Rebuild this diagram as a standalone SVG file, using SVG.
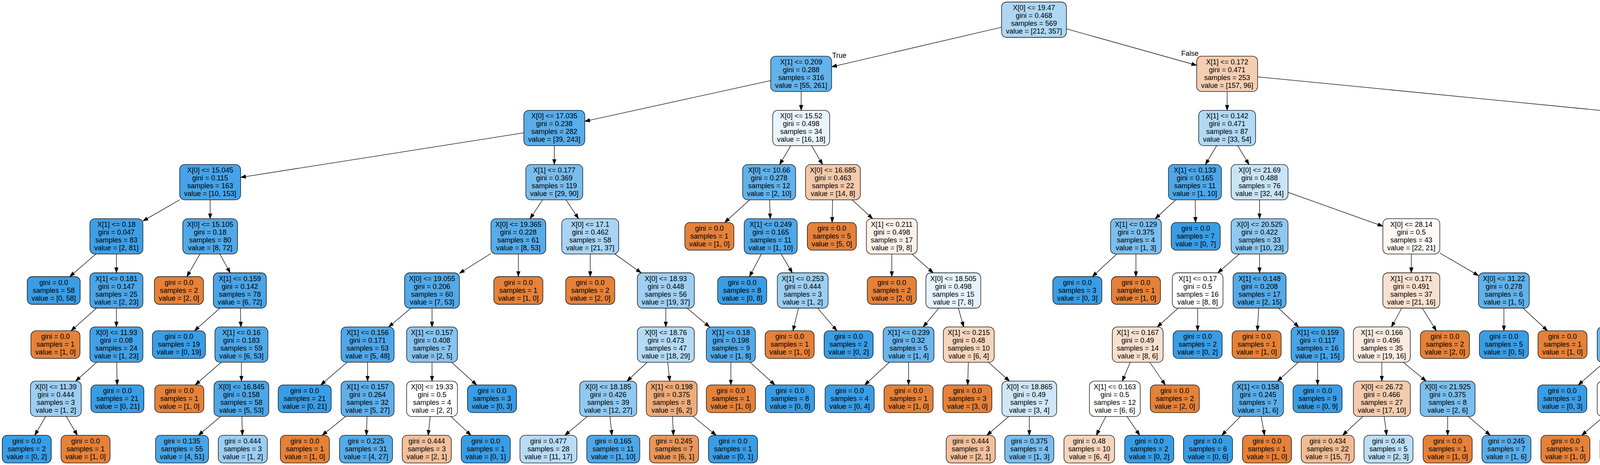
<svg xmlns="http://www.w3.org/2000/svg" width="5887" height="1191" viewBox="0 0 5887 1191">
<style>
text{font-family:"Liberation Sans",Arial,Helvetica,sans-serif;font-size:18px;text-anchor:middle;fill:#000}
.nd rect{stroke:#000;stroke-width:1.3}
.o rect{fill:#e58139}.b rect{fill:#399de5}.w rect{fill:#ffffff}
#edges line{stroke:#000;stroke-width:1.3;marker-end:url(#ah)}
</style>
<defs>
<marker id="ah" markerUnits="userSpaceOnUse" markerWidth="15" markerHeight="11" refX="13.4" refY="4.7" orient="auto"><path d="M0,0 L13.4,4.7 L0,9.4 z" fill="#000" stroke="#000" stroke-width="1"/></marker>
</defs>
<rect width="5887" height="1191" fill="#fff"/>
<g id="edges">
<line x1="2564" y1="69.8" x2="2129" y2="171.1"/>
<line x1="2730" y1="73.8" x2="3063.5" y2="167.3"/>
<line x1="1973" y1="206.3" x2="1497" y2="310.8"/>
<line x1="2051" y1="234.5" x2="2051" y2="282.7"/>
<line x1="3141.5" y1="234.5" x2="3141.5" y2="282.7"/>
<line x1="3219.5" y1="196.8" x2="4480" y2="320.3"/>
<line x1="1341" y1="340.2" x2="616" y2="454.3"/>
<line x1="1419" y1="373.2" x2="1419" y2="421.4"/>
<line x1="2024.3" y1="373.2" x2="1995.8" y2="421.4"/>
<line x1="2077.6" y1="373.2" x2="2105.8" y2="421.4"/>
<line x1="3114.6" y1="373.2" x2="3085.9" y2="421.4"/>
<line x1="3168.6" y1="373.2" x2="3197.4" y2="421.4"/>
<line x1="4558" y1="373.2" x2="4558" y2="421.4"/>
<line x1="4636" y1="341.7" x2="5270.4" y2="454.2"/>
<line x1="460" y1="511.7" x2="365.9" y2="566.1"/>
<line x1="538" y1="511.9" x2="538" y2="560.1"/>
<line x1="1389" y1="511.9" x2="1357" y2="560.1"/>
<line x1="1449" y1="511.9" x2="1481" y2="560.1"/>
<line x1="1919.1" y1="511.9" x2="1855.2" y2="569.8"/>
<line x1="1970.3" y1="511.9" x2="1971.7" y2="560.1"/>
<line x1="2131.5" y1="511.9" x2="2130.2" y2="569.8"/>
<line x1="2181.5" y1="511.9" x2="2233.9" y2="560.1"/>
<line x1="3009.7" y1="511.9" x2="2957.3" y2="560.1"/>
<line x1="3059.7" y1="511.9" x2="3060.5" y2="569.8"/>
<line x1="3224.5" y1="511.9" x2="3224.5" y2="560.1"/>
<line x1="3297.4" y1="492.6" x2="3540.1" y2="579.3"/>
<line x1="4506.1" y1="511.9" x2="4450.9" y2="560.1"/>
<line x1="4610.7" y1="511.9" x2="4666.8" y2="560.1"/>
<line x1="5340.5" y1="511.9" x2="5340.5" y2="560.1"/>
<line x1="5410.7" y1="508.3" x2="5506.2" y2="565"/>
<line x1="245.6" y1="650.6" x2="178.6" y2="708.5"/>
<line x1="298" y1="650.6" x2="298" y2="698.8"/>
<line x1="511.9" y1="650.6" x2="478.5" y2="708.5"/>
<line x1="562.8" y1="650.6" x2="589.2" y2="698.8"/>
<line x1="1256.9" y1="649.3" x2="1176.2" y2="700"/>
<line x1="1327" y1="650.6" x2="1327" y2="708.5"/>
<line x1="1511" y1="650.6" x2="1511" y2="708.5"/>
<line x1="1574.1" y1="650.6" x2="1641.4" y2="698.8"/>
<line x1="1949.2" y1="650.6" x2="1918.7" y2="708.5"/>
<line x1="1999.8" y1="650.6" x2="2028.3" y2="698.8"/>
<line x1="2283" y1="650.6" x2="2283" y2="708.5"/>
<line x1="2334.4" y1="650.6" x2="2389.1" y2="698.8"/>
<line x1="2859.1" y1="650.6" x2="2796.4" y2="708.5"/>
<line x1="2908" y1="650.6" x2="2908" y2="708.5"/>
<line x1="3172.8" y1="650.6" x2="3117.7" y2="698.8"/>
<line x1="3224.5" y1="650.6" x2="3224.5" y2="698.8"/>
<line x1="3613" y1="650.6" x2="3613" y2="698.8"/>
<line x1="3685.9" y1="648" x2="3785" y2="705.9"/>
<line x1="4346.5" y1="650.6" x2="4279.2" y2="708.5"/>
<line x1="4399" y1="650.6" x2="4399" y2="698.8"/>
<line x1="4719.5" y1="650.6" x2="4719.5" y2="698.8"/>
<line x1="4789.7" y1="647.2" x2="4886.5" y2="705.1"/>
<line x1="5315.9" y1="650.6" x2="5289.6" y2="698.8"/>
<line x1="5365.6" y1="650.6" x2="5397.8" y2="708.5"/>
<line x1="5574" y1="650.6" x2="5574" y2="708.5"/>
<line x1="5627" y1="650.6" x2="5683.5" y2="698.8"/>
<line x1="247.1" y1="789.3" x2="181.9" y2="847.2"/>
<line x1="298" y1="789.3" x2="298" y2="837.5"/>
<line x1="563.1" y1="789.3" x2="497.9" y2="847.2"/>
<line x1="615.3" y1="789.3" x2="616.7" y2="837.5"/>
<line x1="1052.2" y1="789.3" x2="994.8" y2="837.5"/>
<line x1="1106" y1="789.3" x2="1106" y2="837.5"/>
<line x1="1704.5" y1="789.3" x2="1704.5" y2="837.5"/>
<line x1="1758.8" y1="789.3" x2="1816.7" y2="837.5"/>
<line x1="2044.1" y1="789.3" x2="2030.1" y2="847.2"/>
<line x1="2093.3" y1="789.3" x2="2142.4" y2="847.2"/>
<line x1="2403.2" y1="789.3" x2="2363.4" y2="837.5"/>
<line x1="2453.4" y1="789.3" x2="2467.1" y2="837.5"/>
<line x1="3015.9" y1="789.3" x2="2962.6" y2="837.5"/>
<line x1="3066" y1="789.3" x2="3066" y2="847.2"/>
<line x1="3222.1" y1="789.3" x2="3218.9" y2="847.2"/>
<line x1="3273" y1="789.3" x2="3324.6" y2="837.5"/>
<line x1="3588.4" y1="789.3" x2="3562.1" y2="837.5"/>
<line x1="3641.1" y1="789.3" x2="3677" y2="847.2"/>
<line x1="3850" y1="789.3" x2="3850" y2="847.2"/>
<line x1="3898.9" y1="789.3" x2="3961.6" y2="847.2"/>
<line x1="4326.1" y1="786.1" x2="4229.2" y2="842.2"/>
<line x1="4399" y1="789.3" x2="4399" y2="837.5"/>
<line x1="4694.1" y1="789.3" x2="4667" y2="837.5"/>
<line x1="4745.9" y1="789.3" x2="4779.8" y2="847.2"/>
<line x1="4951.5" y1="789.3" x2="4951.5" y2="847.2"/>
<line x1="5001.4" y1="789.3" x2="5054.6" y2="837.5"/>
<line x1="5265" y1="789.3" x2="5265" y2="837.5"/>
<line x1="5316.6" y1="789.3" x2="5382.6" y2="847.2"/>
<line x1="5710.9" y1="789.3" x2="5678.1" y2="847.2"/>
<line x1="5761.6" y1="789.3" x2="5793.8" y2="847.2"/>
<line x1="247.4" y1="928" x2="193.6" y2="976.2"/>
<line x1="298.8" y1="928" x2="299.9" y2="985.9"/>
<line x1="566.1" y1="928" x2="499.7" y2="985.9"/>
<line x1="618" y1="928" x2="618" y2="976.2"/>
<line x1="888.5" y1="928" x2="821.2" y2="985.9"/>
<line x1="941" y1="928" x2="941" y2="976.2"/>
<line x1="1106" y1="928" x2="1106" y2="976.2"/>
<line x1="1156.1" y1="928" x2="1220.2" y2="985.9"/>
<line x1="1656.4" y1="928" x2="1605.1" y2="976.2"/>
<line x1="1709.4" y1="928" x2="1714.6" y2="976.2"/>
<line x1="1871" y1="928" x2="1871" y2="985.9"/>
<line x1="1920.4" y1="928" x2="1983.7" y2="985.9"/>
<line x1="2276.7" y1="928" x2="2213.7" y2="985.9"/>
<line x1="2326" y1="928" x2="2326" y2="985.9"/>
<line x1="2478.9" y1="928" x2="2477.4" y2="985.9"/>
<line x1="2530.6" y1="928" x2="2584.4" y2="976.2"/>
<line x1="2893.4" y1="928" x2="2873.1" y2="976.2"/>
<line x1="2943.5" y1="928" x2="2983.2" y2="985.9"/>
<line x1="3323.3" y1="928" x2="3270.3" y2="976.2"/>
<line x1="3373" y1="928" x2="3373" y2="985.9"/>
<line x1="3537.5" y1="928" x2="3537.5" y2="976.2"/>
<line x1="3592.5" y1="928" x2="3651" y2="976.2"/>
<line x1="4107" y1="928" x2="4040.3" y2="985.9"/>
<line x1="4159" y1="928" x2="4159" y2="976.2"/>
<line x1="4373.9" y1="928" x2="4347.1" y2="976.2"/>
<line x1="4426.7" y1="928" x2="4456.3" y2="976.2"/>
<line x1="4643" y1="928" x2="4644.9" y2="985.9"/>
<line x1="4692.1" y1="928" x2="4756.8" y2="985.9"/>
<line x1="5056.2" y1="928" x2="4994.4" y2="985.9"/>
<line x1="5105.3" y1="928" x2="5106.4" y2="985.9"/>
<line x1="5264" y1="928" x2="5262.8" y2="985.9"/>
<line x1="5313.9" y1="928" x2="5366.1" y2="976.2"/>
<line x1="116.9" y1="1066.7" x2="89" y2="1114.9"/>
<line x1="169.7" y1="1066.7" x2="198.1" y2="1114.9"/>
<line x1="564.7" y1="1066.7" x2="507.9" y2="1114.9"/>
<line x1="619.2" y1="1066.7" x2="620.5" y2="1114.9"/>
<line x1="884.7" y1="1066.7" x2="824.7" y2="1114.9"/>
<line x1="939.6" y1="1066.7" x2="938.1" y2="1114.9"/>
<line x1="1101.3" y1="1066.7" x2="1096.2" y2="1114.9"/>
<line x1="1154.3" y1="1066.7" x2="1205.7" y2="1114.9"/>
<line x1="1503.3" y1="1066.7" x2="1446.1" y2="1114.9"/>
<line x1="1561.6" y1="1066.7" x2="1566.4" y2="1114.9"/>
<line x1="1721.6" y1="1066.7" x2="1723.9" y2="1114.9"/>
<line x1="1774.6" y1="1066.7" x2="1833.3" y2="1114.9"/>
<line x1="2582.4" y1="1066.7" x2="2526.3" y2="1114.9"/>
<line x1="2635" y1="1066.7" x2="2635" y2="1114.9"/>
<line x1="2831" y1="1066.7" x2="2806.5" y2="1114.9"/>
<line x1="2884.9" y1="1066.7" x2="2917.8" y2="1114.9"/>
<line x1="3175.6" y1="1066.7" x2="3127.7" y2="1114.9"/>
<line x1="3228.6" y1="1066.7" x2="3237.2" y2="1114.9"/>
<line x1="3488.9" y1="1066.7" x2="3437.1" y2="1114.9"/>
<line x1="3543.5" y1="1066.7" x2="3549.8" y2="1114.9"/>
<line x1="3706" y1="1066.7" x2="3706" y2="1114.9"/>
<line x1="3758.8" y1="1066.7" x2="3815.1" y2="1114.9"/>
<line x1="4105.8" y1="1066.7" x2="4049.2" y2="1114.9"/>
<line x1="4159" y1="1066.7" x2="4159" y2="1114.9"/>
<line x1="4317.3" y1="1066.7" x2="4312.2" y2="1114.9"/>
<line x1="4370.1" y1="1066.7" x2="4421.3" y2="1114.9"/>
<line x1="4528.2" y1="1066.7" x2="4575.3" y2="1114.9"/>
<line x1="4556.9" y1="1054.2" x2="4698.1" y2="1117.6"/>
<line x1="5388.5" y1="1066.7" x2="5360.3" y2="1114.9"/>
<line x1="5441.1" y1="1066.7" x2="5469" y2="1114.9"/>
</g>
<g id="edge-labels">
<text x="2148.5" y="148">True</text>
<text x="3046" y="143">False</text>
</g>
<g id="nodes">
<g id="n0" class="nd"><rect x="2563.95" y="5.25" width="166.1" height="90.5" rx="13" fill="#afd7f4"/><text y="26"><tspan x="2647">X[0] &lt;= 19.47</tspan><tspan x="2647" dy="20">gini = 0.468</tspan><tspan x="2647" dy="20">samples = 569</tspan><tspan x="2647" dy="20">value = [212, 357]</tspan></text></g>
<g id="n1" class="nd"><rect x="1973" y="143.95" width="156" height="90.5" rx="13" fill="#63b2ea"/><text y="164.7"><tspan x="2051">X[1] &lt;= 0.209</tspan><tspan x="2051" dy="20">gini = 0.288</tspan><tspan x="2051" dy="20">samples = 316</tspan><tspan x="2051" dy="20">value = [55, 261]</tspan></text></g>
<g id="n2" class="nd"><rect x="3063.5" y="143.95" width="156" height="90.5" rx="13" fill="#f5ceb2"/><text y="164.7"><tspan x="3141.5">X[1] &lt;= 0.172</tspan><tspan x="3141.5" dy="20">gini = 0.471</tspan><tspan x="3141.5" dy="20">samples = 253</tspan><tspan x="3141.5" dy="20">value = [157, 96]</tspan></text></g>
<g id="n3" class="nd"><rect x="1341" y="282.65" width="156" height="90.5" rx="13" fill="#59ade9"/><text y="303.4"><tspan x="1419">X[0] &lt;= 17.035</tspan><tspan x="1419" dy="20">gini = 0.238</tspan><tspan x="1419" dy="20">samples = 282</tspan><tspan x="1419" dy="20">value = [39, 243]</tspan></text></g>
<g id="n4" class="nd"><rect x="1978.1" y="282.65" width="145.8" height="90.5" rx="13" fill="#e9f4fc"/><text y="303.4"><tspan x="2051">X[0] &lt;= 15.52</tspan><tspan x="2051" dy="20">gini = 0.498</tspan><tspan x="2051" dy="20">samples = 34</tspan><tspan x="2051" dy="20">value = [16, 18]</tspan></text></g>
<g id="n5" class="nd"><rect x="3068.6" y="282.65" width="145.8" height="90.5" rx="13" fill="#b2d9f5"/><text y="303.4"><tspan x="3141.5">X[1] &lt;= 0.142</tspan><tspan x="3141.5" dy="20">gini = 0.471</tspan><tspan x="3141.5" dy="20">samples = 87</tspan><tspan x="3141.5" dy="20">value = [33, 54]</tspan></text></g>
<g id="n6" class="nd"><rect x="4480" y="282.65" width="156" height="90.5" rx="13" fill="#eeac7c"/><text y="303.4"><tspan x="4558">X[1] &lt;= 0.204</tspan><tspan x="4558" dy="20">gini = 0.378</tspan><tspan x="4558" dy="20">samples = 166</tspan><tspan x="4558" dy="20">value = [124, 42]</tspan></text></g>
<g id="n7" class="nd"><rect x="460" y="421.35" width="156" height="90.5" rx="13" fill="#46a3e7"/><text y="442.1"><tspan x="538">X[0] &lt;= 15.045</tspan><tspan x="538" dy="20">gini = 0.115</tspan><tspan x="538" dy="20">samples = 163</tspan><tspan x="538" dy="20">value = [10, 153]</tspan></text></g>
<g id="n8" class="nd"><rect x="1346.1" y="421.35" width="145.8" height="90.5" rx="13" fill="#79bded"/><text y="442.1"><tspan x="1419">X[1] &lt;= 0.177</tspan><tspan x="1419" dy="20">gini = 0.369</tspan><tspan x="1419" dy="20">samples = 119</tspan><tspan x="1419" dy="20">value = [29, 90]</tspan></text></g>
<g id="n9" class="nd"><rect x="1901.15" y="421.35" width="135.7" height="90.5" rx="13" fill="#61b1ea"/><text y="442.1"><tspan x="1969">X[0] &lt;= 10.66</tspan><tspan x="1969" dy="20">gini = 0.278</tspan><tspan x="1969" dy="20">samples = 12</tspan><tspan x="1969" dy="20">value = [2, 10]</tspan></text></g>
<g id="n10" class="nd"><rect x="2062.25" y="421.35" width="140.3" height="90.5" rx="13" fill="#f4c9aa"/><text y="442.1"><tspan x="2132.4">X[0] &lt;= 16.685</tspan><tspan x="2132.4" dy="20">gini = 0.463</tspan><tspan x="2132.4" dy="20">samples = 22</tspan><tspan x="2132.4" dy="20">value = [14, 8]</tspan></text></g>
<g id="n11" class="nd"><rect x="2991.15" y="421.35" width="135.7" height="90.5" rx="13" fill="#4da7e8"/><text y="442.1"><tspan x="3059">X[1] &lt;= 0.133</tspan><tspan x="3059" dy="20">gini = 0.165</tspan><tspan x="3059" dy="20">samples = 11</tspan><tspan x="3059" dy="20">value = [1, 10]</tspan></text></g>
<g id="n12" class="nd"><rect x="3151.6" y="421.35" width="145.8" height="90.5" rx="13" fill="#c9e4f8"/><text y="442.1"><tspan x="3224.5">X[0] &lt;= 21.69</tspan><tspan x="3224.5" dy="20">gini = 0.488</tspan><tspan x="3224.5" dy="20">samples = 76</tspan><tspan x="3224.5" dy="20">value = [32, 44]</tspan></text></g>
<g id="n13" class="nd"><rect x="4485.1" y="421.35" width="145.8" height="90.5" rx="13" fill="#f2be99"/><text y="442.1"><tspan x="4558">X[1] &lt;= 0.199</tspan><tspan x="4558" dy="20">gini = 0.44</tspan><tspan x="4558" dy="20">samples = 110</tspan><tspan x="4558" dy="20">value = [74, 36]</tspan></text></g>
<g id="n14" class="nd"><rect x="5270.35" y="421.35" width="140.3" height="90.5" rx="13" fill="#e89051"/><text y="442.1"><tspan x="5340.5">X[0] &lt;= 20.805</tspan><tspan x="5340.5" dy="20">gini = 0.191</tspan><tspan x="5340.5" dy="20">samples = 56</tspan><tspan x="5340.5" dy="20">value = [50, 6]</tspan></text></g>
<g id="n15" class="nd"><rect x="230.15" y="560.05" width="135.7" height="90.5" rx="13" fill="#3e9fe6"/><text y="580.8"><tspan x="298">X[1] &lt;= 0.18</tspan><tspan x="298" dy="20">gini = 0.047</tspan><tspan x="298" dy="20">samples = 83</tspan><tspan x="298" dy="20">value = [2, 81]</tspan></text></g>
<g id="n16" class="nd"><rect x="467.85" y="560.05" width="140.3" height="90.5" rx="13" fill="#4fa8e8"/><text y="580.8"><tspan x="538">X[0] &lt;= 15.105</tspan><tspan x="538" dy="20">gini = 0.18</tspan><tspan x="538" dy="20">samples = 80</tspan><tspan x="538" dy="20">value = [8, 72]</tspan></text></g>
<g id="n17" class="nd"><rect x="1256.85" y="560.05" width="140.3" height="90.5" rx="13" fill="#57ace9"/><text y="580.8"><tspan x="1327">X[0] &lt;= 19.365</tspan><tspan x="1327" dy="20">gini = 0.228</tspan><tspan x="1327" dy="20">samples = 61</tspan><tspan x="1327" dy="20">value = [8, 53]</tspan></text></g>
<g id="n18" class="nd"><rect x="1438.1" y="560.05" width="145.8" height="90.5" rx="13" fill="#a9d4f4"/><text y="580.8"><tspan x="1511">X[0] &lt;= 17.1</tspan><tspan x="1511" dy="20">gini = 0.462</tspan><tspan x="1511" dy="20">samples = 58</tspan><tspan x="1511" dy="20">value = [21, 37]</tspan></text></g>
<g id="n19" class="nd o"><rect x="1753.2" y="569.8" width="125.6" height="71" rx="13"/><text y="590.8"><tspan x="1816">gini = 0.0</tspan><tspan x="1816" dy="20">samples = 1</tspan><tspan x="1816" dy="20">value = [1, 0]</tspan></text></g>
<g id="n20" class="nd"><rect x="1905.15" y="560.05" width="135.7" height="90.5" rx="13" fill="#4da7e8"/><text y="580.8"><tspan x="1973">X[1] &lt;= 0.249</tspan><tspan x="1973" dy="20">gini = 0.165</tspan><tspan x="1973" dy="20">samples = 11</tspan><tspan x="1973" dy="20">value = [1, 10]</tspan></text></g>
<g id="n21" class="nd o"><rect x="2066.7" y="569.8" width="125.6" height="71" rx="13"/><text y="590.8"><tspan x="2129.5">gini = 0.0</tspan><tspan x="2129.5" dy="20">samples = 5</tspan><tspan x="2129.5" dy="20">value = [5, 0]</tspan></text></g>
<g id="n22" class="nd"><rect x="2217.95" y="560.05" width="130.1" height="90.5" rx="13" fill="#fcf1e9"/><text y="580.8"><tspan x="2283">X[1] &lt;= 0.211</tspan><tspan x="2283" dy="20">gini = 0.498</tspan><tspan x="2283" dy="20">samples = 17</tspan><tspan x="2283" dy="20">value = [9, 8]</tspan></text></g>
<g id="n23" class="nd"><rect x="2842.95" y="560.05" width="130.1" height="90.5" rx="13" fill="#7bbeee"/><text y="580.8"><tspan x="2908">X[1] &lt;= 0.129</tspan><tspan x="2908" dy="20">gini = 0.375</tspan><tspan x="2908" dy="20">samples = 4</tspan><tspan x="2908" dy="20">value = [1, 3]</tspan></text></g>
<g id="n24" class="nd b"><rect x="2998.2" y="569.8" width="125.6" height="71" rx="13"/><text y="590.8"><tspan x="3061">gini = 0.0</tspan><tspan x="3061" dy="20">samples = 7</tspan><tspan x="3061" dy="20">value = [0, 7]</tspan></text></g>
<g id="n25" class="nd"><rect x="3151.6" y="560.05" width="145.8" height="90.5" rx="13" fill="#8fc8f0"/><text y="580.8"><tspan x="3224.5">X[0] &lt;= 20.525</tspan><tspan x="3224.5" dy="20">gini = 0.422</tspan><tspan x="3224.5" dy="20">samples = 33</tspan><tspan x="3224.5" dy="20">value = [10, 23]</tspan></text></g>
<g id="n26" class="nd"><rect x="3540.1" y="560.05" width="145.8" height="90.5" rx="13" fill="#fef9f6"/><text y="580.8"><tspan x="3613">X[0] &lt;= 28.14</tspan><tspan x="3613" dy="20">gini = 0.5</tspan><tspan x="3613" dy="20">samples = 43</tspan><tspan x="3613" dy="20">value = [22, 21]</tspan></text></g>
<g id="n27" class="nd"><rect x="4326.1" y="560.05" width="145.8" height="90.5" rx="13" fill="#f0b78e"/><text y="580.8"><tspan x="4399">X[1] &lt;= 0.173</tspan><tspan x="4399" dy="20">gini = 0.42</tspan><tspan x="4399" dy="20">samples = 100</tspan><tspan x="4399" dy="20">value = [70, 30]</tspan></text></g>
<g id="n28" class="nd"><rect x="4649.35" y="560.05" width="140.3" height="90.5" rx="13" fill="#bddef6"/><text y="580.8"><tspan x="4719.5">X[0] &lt;= 21.645</tspan><tspan x="4719.5" dy="20">gini = 0.48</tspan><tspan x="4719.5" dy="20">samples = 10</tspan><tspan x="4719.5" dy="20">value = [4, 6]</tspan></text></g>
<g id="n29" class="nd"><rect x="5275.45" y="560.05" width="130.1" height="90.5" rx="13" fill="#f3c7a7"/><text y="580.8"><tspan x="5340.5">X[0] &lt;= 20.69</tspan><tspan x="5340.5" dy="20">gini = 0.459</tspan><tspan x="5340.5" dy="20">samples = 14</tspan><tspan x="5340.5" dy="20">value = [9, 5]</tspan></text></g>
<g id="n30" class="nd"><rect x="5506.15" y="560.05" width="135.7" height="90.5" rx="13" fill="#e6843e"/><text y="580.8"><tspan x="5574">X[0] &lt;= 24.21</tspan><tspan x="5574" dy="20">gini = 0.046</tspan><tspan x="5574" dy="20">samples = 42</tspan><tspan x="5574" dy="20">value = [41, 1]</tspan></text></g>
<g id="n31" class="nd b"><rect x="69.65" y="708.5" width="135.7" height="71" rx="13"/><text y="729.5"><tspan x="137.5">gini = 0.0</tspan><tspan x="137.5" dy="20">samples = 58</tspan><tspan x="137.5" dy="20">value = [0, 58]</tspan></text></g>
<g id="n32" class="nd"><rect x="230.15" y="698.75" width="135.7" height="90.5" rx="13" fill="#4aa5e7"/><text y="719.5"><tspan x="298">X[1] &lt;= 0.181</tspan><tspan x="298" dy="20">gini = 0.147</tspan><tspan x="298" dy="20">samples = 25</tspan><tspan x="298" dy="20">value = [2, 23]</tspan></text></g>
<g id="n33" class="nd o"><rect x="395.2" y="708.5" width="125.6" height="71" rx="13"/><text y="729.5"><tspan x="458">gini = 0.0</tspan><tspan x="458" dy="20">samples = 2</tspan><tspan x="458" dy="20">value = [2, 0]</tspan></text></g>
<g id="n34" class="nd"><rect x="546.15" y="698.75" width="135.7" height="90.5" rx="13" fill="#4aa5e7"/><text y="719.5"><tspan x="614">X[1] &lt;= 0.159</tspan><tspan x="614" dy="20">gini = 0.142</tspan><tspan x="614" dy="20">samples = 78</tspan><tspan x="614" dy="20">value = [6, 72]</tspan></text></g>
<g id="n35" class="nd"><rect x="1035.85" y="698.75" width="140.3" height="90.5" rx="13" fill="#53aae8"/><text y="719.5"><tspan x="1106">X[0] &lt;= 19.055</tspan><tspan x="1106" dy="20">gini = 0.206</tspan><tspan x="1106" dy="20">samples = 60</tspan><tspan x="1106" dy="20">value = [7, 53]</tspan></text></g>
<g id="n36" class="nd o"><rect x="1264.2" y="708.5" width="125.6" height="71" rx="13"/><text y="729.5"><tspan x="1327">gini = 0.0</tspan><tspan x="1327" dy="20">samples = 1</tspan><tspan x="1327" dy="20">value = [1, 0]</tspan></text></g>
<g id="n37" class="nd o"><rect x="1448.2" y="708.5" width="125.6" height="71" rx="13"/><text y="729.5"><tspan x="1511">gini = 0.0</tspan><tspan x="1511" dy="20">samples = 2</tspan><tspan x="1511" dy="20">value = [2, 0]</tspan></text></g>
<g id="n38" class="nd"><rect x="1631.6" y="698.75" width="145.8" height="90.5" rx="13" fill="#9fcff2"/><text y="719.5"><tspan x="1704.5">X[0] &lt;= 18.93</tspan><tspan x="1704.5" dy="20">gini = 0.448</tspan><tspan x="1704.5" dy="20">samples = 56</tspan><tspan x="1704.5" dy="20">value = [19, 37]</tspan></text></g>
<g id="n39" class="nd b"><rect x="1837.2" y="708.5" width="125.6" height="71" rx="13"/><text y="729.5"><tspan x="1900">gini = 0.0</tspan><tspan x="1900" dy="20">samples = 8</tspan><tspan x="1900" dy="20">value = [0, 8]</tspan></text></g>
<g id="n40" class="nd"><rect x="1989.95" y="698.75" width="130.1" height="90.5" rx="13" fill="#9ccef2"/><text y="719.5"><tspan x="2055">X[1] &lt;= 0.253</tspan><tspan x="2055" dy="20">gini = 0.444</tspan><tspan x="2055" dy="20">samples = 3</tspan><tspan x="2055" dy="20">value = [1, 2]</tspan></text></g>
<g id="n41" class="nd o"><rect x="2220.2" y="708.5" width="125.6" height="71" rx="13"/><text y="729.5"><tspan x="2283">gini = 0.0</tspan><tspan x="2283" dy="20">samples = 2</tspan><tspan x="2283" dy="20">value = [2, 0]</tspan></text></g>
<g id="n42" class="nd"><rect x="2370.35" y="698.75" width="140.3" height="90.5" rx="13" fill="#e6f3fc"/><text y="719.5"><tspan x="2440.5">X[0] &lt;= 18.505</tspan><tspan x="2440.5" dy="20">gini = 0.498</tspan><tspan x="2440.5" dy="20">samples = 15</tspan><tspan x="2440.5" dy="20">value = [7, 8]</tspan></text></g>
<g id="n43" class="nd b"><rect x="2695.2" y="708.5" width="125.6" height="71" rx="13"/><text y="729.5"><tspan x="2758">gini = 0.0</tspan><tspan x="2758" dy="20">samples = 3</tspan><tspan x="2758" dy="20">value = [0, 3]</tspan></text></g>
<g id="n44" class="nd o"><rect x="2845.2" y="708.5" width="125.6" height="71" rx="13"/><text y="729.5"><tspan x="2908">gini = 0.0</tspan><tspan x="2908" dy="20">samples = 1</tspan><tspan x="2908" dy="20">value = [1, 0]</tspan></text></g>
<g id="n45" class="nd w"><rect x="3001.2" y="698.75" width="129.6" height="90.5" rx="13"/><text y="719.5"><tspan x="3066">X[1] &lt;= 0.17</tspan><tspan x="3066" dy="20">gini = 0.5</tspan><tspan x="3066" dy="20">samples = 16</tspan><tspan x="3066" dy="20">value = [8, 8]</tspan></text></g>
<g id="n46" class="nd"><rect x="3156.65" y="698.75" width="135.7" height="90.5" rx="13" fill="#53aae8"/><text y="719.5"><tspan x="3224.5">X[1] &lt;= 0.148</tspan><tspan x="3224.5" dy="20">gini = 0.208</tspan><tspan x="3224.5" dy="20">samples = 17</tspan><tspan x="3224.5" dy="20">value = [2, 15]</tspan></text></g>
<g id="n47" class="nd"><rect x="3540.1" y="698.75" width="145.8" height="90.5" rx="13" fill="#f9e1d0"/><text y="719.5"><tspan x="3613">X[1] &lt;= 0.171</tspan><tspan x="3613" dy="20">gini = 0.491</tspan><tspan x="3613" dy="20">samples = 37</tspan><tspan x="3613" dy="20">value = [21, 16]</tspan></text></g>
<g id="n48" class="nd"><rect x="3784.95" y="698.75" width="130.1" height="90.5" rx="13" fill="#61b1ea"/><text y="719.5"><tspan x="3850">X[0] &lt;= 31.22</tspan><tspan x="3850" dy="20">gini = 0.278</tspan><tspan x="3850" dy="20">samples = 6</tspan><tspan x="3850" dy="20">value = [1, 5]</tspan></text></g>
<g id="n49" class="nd o"><rect x="4175.2" y="708.5" width="125.6" height="71" rx="13"/><text y="729.5"><tspan x="4238">gini = 0.0</tspan><tspan x="4238" dy="20">samples = 7</tspan><tspan x="4238" dy="20">value = [7, 0]</tspan></text></g>
<g id="n50" class="nd"><rect x="4326.1" y="698.75" width="145.8" height="90.5" rx="13" fill="#f1bd97"/><text y="719.5"><tspan x="4399">X[1] &lt;= 0.174</tspan><tspan x="4399" dy="20">gini = 0.437</tspan><tspan x="4399" dy="20">samples = 93</tspan><tspan x="4399" dy="20">value = [63, 30]</tspan></text></g>
<g id="n51" class="nd"><rect x="4654.45" y="698.75" width="130.1" height="90.5" rx="13" fill="#f6d5bd"/><text y="719.5"><tspan x="4719.5">X[1] &lt;= 0.202</tspan><tspan x="4719.5" dy="20">gini = 0.48</tspan><tspan x="4719.5" dy="20">samples = 5</tspan><tspan x="4719.5" dy="20">value = [3, 2]</tspan></text></g>
<g id="n52" class="nd"><rect x="4886.45" y="698.75" width="130.1" height="90.5" rx="13" fill="#6ab6ec"/><text y="719.5"><tspan x="4951.5">X[0] &lt;= 23.24</tspan><tspan x="4951.5" dy="20">gini = 0.32</tspan><tspan x="4951.5" dy="20">samples = 5</tspan><tspan x="4951.5" dy="20">value = [1, 4]</tspan></text></g>
<g id="n53" class="nd"><rect x="5200.2" y="698.75" width="129.6" height="90.5" rx="13" fill="#eeab7b"/><text y="719.5"><tspan x="5265">X[0] &lt;= 20.3</tspan><tspan x="5265" dy="20">gini = 0.375</tspan><tspan x="5265" dy="20">samples = 12</tspan><tspan x="5265" dy="20">value = [9, 3]</tspan></text></g>
<g id="n54" class="nd b"><rect x="5354.7" y="708.5" width="125.6" height="71" rx="13"/><text y="729.5"><tspan x="5417.5">gini = 0.0</tspan><tspan x="5417.5" dy="20">samples = 2</tspan><tspan x="5417.5" dy="20">value = [0, 2]</tspan></text></g>
<g id="n55" class="nd o"><rect x="5506.15" y="708.5" width="135.7" height="71" rx="13"/><text y="729.5"><tspan x="5574">gini = 0.0</tspan><tspan x="5574" dy="20">samples = 28</tspan><tspan x="5574" dy="20">value = [28, 0]</tspan></text></g>
<g id="n56" class="nd"><rect x="5666.35" y="698.75" width="140.3" height="90.5" rx="13" fill="#e78b48"/><text y="719.5"><tspan x="5736.5">X[0] &lt;= 24.465</tspan><tspan x="5736.5" dy="20">gini = 0.133</tspan><tspan x="5736.5" dy="20">samples = 14</tspan><tspan x="5736.5" dy="20">value = [13, 1]</tspan></text></g>
<g id="n57" class="nd o"><rect x="79.2" y="847.2" width="125.6" height="71" rx="13"/><text y="868.2"><tspan x="142">gini = 0.0</tspan><tspan x="142" dy="20">samples = 1</tspan><tspan x="142" dy="20">value = [1, 0]</tspan></text></g>
<g id="n58" class="nd"><rect x="230.15" y="837.45" width="135.7" height="90.5" rx="13" fill="#42a1e6"/><text y="858.2"><tspan x="298">X[0] &lt;= 11.93</tspan><tspan x="298" dy="20">gini = 0.08</tspan><tspan x="298" dy="20">samples = 24</tspan><tspan x="298" dy="20">value = [1, 23]</tspan></text></g>
<g id="n59" class="nd b"><rect x="390.15" y="847.2" width="135.7" height="71" rx="13"/><text y="868.2"><tspan x="458">gini = 0.0</tspan><tspan x="458" dy="20">samples = 19</tspan><tspan x="458" dy="20">value = [0, 19]</tspan></text></g>
<g id="n60" class="nd"><rect x="550.15" y="837.45" width="135.7" height="90.5" rx="13" fill="#4fa8e8"/><text y="858.2"><tspan x="618">X[1] &lt;= 0.16</tspan><tspan x="618" dy="20">gini = 0.183</tspan><tspan x="618" dy="20">samples = 59</tspan><tspan x="618" dy="20">value = [6, 53]</tspan></text></g>
<g id="n61" class="nd"><rect x="873.15" y="837.45" width="135.7" height="90.5" rx="13" fill="#4ea7e8"/><text y="858.2"><tspan x="941">X[1] &lt;= 0.156</tspan><tspan x="941" dy="20">gini = 0.171</tspan><tspan x="941" dy="20">samples = 53</tspan><tspan x="941" dy="20">value = [5, 48]</tspan></text></g>
<g id="n62" class="nd"><rect x="1040.95" y="837.45" width="130.1" height="90.5" rx="13" fill="#88c4ef"/><text y="858.2"><tspan x="1106">X[1] &lt;= 0.157</tspan><tspan x="1106" dy="20">gini = 0.408</tspan><tspan x="1106" dy="20">samples = 7</tspan><tspan x="1106" dy="20">value = [2, 5]</tspan></text></g>
<g id="n63" class="nd"><rect x="1631.6" y="837.45" width="145.8" height="90.5" rx="13" fill="#b4daf5"/><text y="858.2"><tspan x="1704.5">X[0] &lt;= 18.76</tspan><tspan x="1704.5" dy="20">gini = 0.473</tspan><tspan x="1704.5" dy="20">samples = 47</tspan><tspan x="1704.5" dy="20">value = [18, 29]</tspan></text></g>
<g id="n64" class="nd"><rect x="1808.2" y="837.45" width="125.6" height="90.5" rx="13" fill="#52a9e8"/><text y="858.2"><tspan x="1871">X[1] &lt;= 0.18</tspan><tspan x="1871" dy="20">gini = 0.198</tspan><tspan x="1871" dy="20">samples = 9</tspan><tspan x="1871" dy="20">value = [1, 8]</tspan></text></g>
<g id="n65" class="nd o"><rect x="1958.7" y="847.2" width="125.6" height="71" rx="13"/><text y="868.2"><tspan x="2021.5">gini = 0.0</tspan><tspan x="2021.5" dy="20">samples = 1</tspan><tspan x="2021.5" dy="20">value = [1, 0]</tspan></text></g>
<g id="n66" class="nd b"><rect x="2109.7" y="847.2" width="125.6" height="71" rx="13"/><text y="868.2"><tspan x="2172.5">gini = 0.0</tspan><tspan x="2172.5" dy="20">samples = 2</tspan><tspan x="2172.5" dy="20">value = [0, 2]</tspan></text></g>
<g id="n67" class="nd"><rect x="2260.95" y="837.45" width="130.1" height="90.5" rx="13" fill="#6ab6ec"/><text y="858.2"><tspan x="2326">X[1] &lt;= 0.239</tspan><tspan x="2326" dy="20">gini = 0.32</tspan><tspan x="2326" dy="20">samples = 5</tspan><tspan x="2326" dy="20">value = [1, 4]</tspan></text></g>
<g id="n68" class="nd"><rect x="2414.95" y="837.45" width="130.1" height="90.5" rx="13" fill="#f6d5bd"/><text y="858.2"><tspan x="2480">X[1] &lt;= 0.215</tspan><tspan x="2480" dy="20">gini = 0.48</tspan><tspan x="2480" dy="20">samples = 10</tspan><tspan x="2480" dy="20">value = [6, 4]</tspan></text></g>
<g id="n69" class="nd"><rect x="2847.45" y="837.45" width="130.1" height="90.5" rx="13" fill="#f8e0ce"/><text y="858.2"><tspan x="2912.5">X[1] &lt;= 0.167</tspan><tspan x="2912.5" dy="20">gini = 0.49</tspan><tspan x="2912.5" dy="20">samples = 14</tspan><tspan x="2912.5" dy="20">value = [8, 6]</tspan></text></g>
<g id="n70" class="nd b"><rect x="3003.2" y="847.2" width="125.6" height="71" rx="13"/><text y="868.2"><tspan x="3066">gini = 0.0</tspan><tspan x="3066" dy="20">samples = 2</tspan><tspan x="3066" dy="20">value = [0, 2]</tspan></text></g>
<g id="n71" class="nd o"><rect x="3154.2" y="847.2" width="125.6" height="71" rx="13"/><text y="868.2"><tspan x="3217">gini = 0.0</tspan><tspan x="3217" dy="20">samples = 1</tspan><tspan x="3217" dy="20">value = [1, 0]</tspan></text></g>
<g id="n72" class="nd"><rect x="3305.15" y="837.45" width="135.7" height="90.5" rx="13" fill="#46a4e7"/><text y="858.2"><tspan x="3373">X[1] &lt;= 0.159</tspan><tspan x="3373" dy="20">gini = 0.117</tspan><tspan x="3373" dy="20">samples = 16</tspan><tspan x="3373" dy="20">value = [1, 15]</tspan></text></g>
<g id="n73" class="nd"><rect x="3464.6" y="837.45" width="145.8" height="90.5" rx="13" fill="#fbebe0"/><text y="858.2"><tspan x="3537.5">X[1] &lt;= 0.166</tspan><tspan x="3537.5" dy="20">gini = 0.496</tspan><tspan x="3537.5" dy="20">samples = 35</tspan><tspan x="3537.5" dy="20">value = [19, 16]</tspan></text></g>
<g id="n74" class="nd o"><rect x="3636.2" y="847.2" width="125.6" height="71" rx="13"/><text y="868.2"><tspan x="3699">gini = 0.0</tspan><tspan x="3699" dy="20">samples = 2</tspan><tspan x="3699" dy="20">value = [2, 0]</tspan></text></g>
<g id="n75" class="nd b"><rect x="3787.2" y="847.2" width="125.6" height="71" rx="13"/><text y="868.2"><tspan x="3850">gini = 0.0</tspan><tspan x="3850" dy="20">samples = 5</tspan><tspan x="3850" dy="20">value = [0, 5]</tspan></text></g>
<g id="n76" class="nd o"><rect x="3937.2" y="847.2" width="125.6" height="71" rx="13"/><text y="868.2"><tspan x="4000">gini = 0.0</tspan><tspan x="4000" dy="20">samples = 1</tspan><tspan x="4000" dy="20">value = [1, 0]</tspan></text></g>
<g id="n77" class="nd"><rect x="4088.85" y="837.45" width="140.3" height="90.5" rx="13" fill="#6ab6ec"/><text y="858.2"><tspan x="4159">X[0] &lt;= 21.985</tspan><tspan x="4159" dy="20">gini = 0.32</tspan><tspan x="4159" dy="20">samples = 5</tspan><tspan x="4159" dy="20">value = [1, 4]</tspan></text></g>
<g id="n78" class="nd"><rect x="4326.1" y="837.45" width="145.8" height="90.5" rx="13" fill="#f0b68c"/><text y="858.2"><tspan x="4399">X[0] &lt;= 19.62</tspan><tspan x="4399" dy="20">gini = 0.416</tspan><tspan x="4399" dy="20">samples = 88</tspan><tspan x="4399" dy="20">value = [62, 26]</tspan></text></g>
<g id="n79" class="nd"><rect x="4571.35" y="837.45" width="140.3" height="90.5" rx="13" fill="#9ccef2"/><text y="858.2"><tspan x="4641.5">X[0] &lt;= 21.275</tspan><tspan x="4641.5" dy="20">gini = 0.444</tspan><tspan x="4641.5" dy="20">samples = 3</tspan><tspan x="4641.5" dy="20">value = [1, 2]</tspan></text></g>
<g id="n80" class="nd o"><rect x="4737.7" y="847.2" width="125.6" height="71" rx="13"/><text y="868.2"><tspan x="4800.5">gini = 0.0</tspan><tspan x="4800.5" dy="20">samples = 2</tspan><tspan x="4800.5" dy="20">value = [2, 0]</tspan></text></g>
<g id="n81" class="nd b"><rect x="4888.7" y="847.2" width="125.6" height="71" rx="13"/><text y="868.2"><tspan x="4951.5">gini = 0.0</tspan><tspan x="4951.5" dy="20">samples = 3</tspan><tspan x="4951.5" dy="20">value = [0, 3]</tspan></text></g>
<g id="n82" class="nd w"><rect x="5039.45" y="837.45" width="130.1" height="90.5" rx="13"/><text y="858.2"><tspan x="5104.5">X[0] &lt;= 24.74</tspan><tspan x="5104.5" dy="20">gini = 0.5</tspan><tspan x="5104.5" dy="20">samples = 2</tspan><tspan x="5104.5" dy="20">value = [1, 1]</tspan></text></g>
<g id="n83" class="nd"><rect x="5194.85" y="837.45" width="140.3" height="90.5" rx="13" fill="#f8e0ce"/><text y="858.2"><tspan x="5265">X[0] &lt;= 19.815</tspan><tspan x="5265" dy="20">gini = 0.49</tspan><tspan x="5265" dy="20">samples = 7</tspan><tspan x="5265" dy="20">value = [4, 3]</tspan></text></g>
<g id="n84" class="nd o"><rect x="5360.2" y="847.2" width="125.6" height="71" rx="13"/><text y="868.2"><tspan x="5423">gini = 0.0</tspan><tspan x="5423" dy="20">samples = 5</tspan><tspan x="5423" dy="20">value = [5, 0]</tspan></text></g>
<g id="n85" class="nd b"><rect x="5595.2" y="847.2" width="125.6" height="71" rx="13"/><text y="868.2"><tspan x="5658">gini = 0.0</tspan><tspan x="5658" dy="20">samples = 1</tspan><tspan x="5658" dy="20">value = [0, 1]</tspan></text></g>
<g id="n86" class="nd o"><rect x="5745.65" y="847.2" width="135.7" height="71" rx="13"/><text y="868.2"><tspan x="5813.5">gini = 0.0</tspan><tspan x="5813.5" dy="20">samples = 13</tspan><tspan x="5813.5" dy="20">value = [13, 0]</tspan></text></g>
<g id="n87" class="nd"><rect x="77.95" y="976.15" width="130.1" height="90.5" rx="13" fill="#9ccef2"/><text y="996.9"><tspan x="143">X[0] &lt;= 11.39</tspan><tspan x="143" dy="20">gini = 0.444</tspan><tspan x="143" dy="20">samples = 3</tspan><tspan x="143" dy="20">value = [1, 2]</tspan></text></g>
<g id="n88" class="nd b"><rect x="232.65" y="985.9" width="135.7" height="71" rx="13"/><text y="1006.9"><tspan x="300.5">gini = 0.0</tspan><tspan x="300.5" dy="20">samples = 21</tspan><tspan x="300.5" dy="20">value = [0, 21]</tspan></text></g>
<g id="n89" class="nd o"><rect x="396.2" y="985.9" width="125.6" height="71" rx="13"/><text y="1006.9"><tspan x="459">gini = 0.0</tspan><tspan x="459" dy="20">samples = 1</tspan><tspan x="459" dy="20">value = [1, 0]</tspan></text></g>
<g id="n90" class="nd"><rect x="547.85" y="976.15" width="140.3" height="90.5" rx="13" fill="#4ca6e7"/><text y="996.9"><tspan x="618">X[0] &lt;= 16.845</tspan><tspan x="618" dy="20">gini = 0.158</tspan><tspan x="618" dy="20">samples = 58</tspan><tspan x="618" dy="20">value = [5, 53]</tspan></text></g>
<g id="n91" class="nd b"><rect x="712.15" y="985.9" width="135.7" height="71" rx="13"/><text y="1006.9"><tspan x="780">gini = 0.0</tspan><tspan x="780" dy="20">samples = 21</tspan><tspan x="780" dy="20">value = [0, 21]</tspan></text></g>
<g id="n92" class="nd"><rect x="873.15" y="976.15" width="135.7" height="90.5" rx="13" fill="#5eafea"/><text y="996.9"><tspan x="941">X[1] &lt;= 0.157</tspan><tspan x="941" dy="20">gini = 0.264</tspan><tspan x="941" dy="20">samples = 32</tspan><tspan x="941" dy="20">value = [5, 27]</tspan></text></g>
<g id="n93" class="nd w"><rect x="1040.95" y="976.15" width="130.1" height="90.5" rx="13"/><text y="996.9"><tspan x="1106">X[0] &lt;= 19.33</tspan><tspan x="1106" dy="20">gini = 0.5</tspan><tspan x="1106" dy="20">samples = 4</tspan><tspan x="1106" dy="20">value = [2, 2]</tspan></text></g>
<g id="n94" class="nd b"><rect x="1196.7" y="985.9" width="125.6" height="71" rx="13"/><text y="1006.9"><tspan x="1259.5">gini = 0.0</tspan><tspan x="1259.5" dy="20">samples = 3</tspan><tspan x="1259.5" dy="20">value = [0, 3]</tspan></text></g>
<g id="n95" class="nd"><rect x="1484.1" y="976.15" width="145.8" height="90.5" rx="13" fill="#91c9f1"/><text y="996.9"><tspan x="1557">X[0] &lt;= 18.185</tspan><tspan x="1557" dy="20">gini = 0.426</tspan><tspan x="1557" dy="20">samples = 39</tspan><tspan x="1557" dy="20">value = [12, 27]</tspan></text></g>
<g id="n96" class="nd"><rect x="1654.45" y="976.15" width="130.1" height="90.5" rx="13" fill="#eeab7b"/><text y="996.9"><tspan x="1719.5">X[1] &lt;= 0.198</tspan><tspan x="1719.5" dy="20">gini = 0.375</tspan><tspan x="1719.5" dy="20">samples = 8</tspan><tspan x="1719.5" dy="20">value = [6, 2]</tspan></text></g>
<g id="n97" class="nd o"><rect x="1808.2" y="985.9" width="125.6" height="71" rx="13"/><text y="1006.9"><tspan x="1871">gini = 0.0</tspan><tspan x="1871" dy="20">samples = 1</tspan><tspan x="1871" dy="20">value = [1, 0]</tspan></text></g>
<g id="n98" class="nd b"><rect x="1959.7" y="985.9" width="125.6" height="71" rx="13"/><text y="1006.9"><tspan x="2022.5">gini = 0.0</tspan><tspan x="2022.5" dy="20">samples = 8</tspan><tspan x="2022.5" dy="20">value = [0, 8]</tspan></text></g>
<g id="n99" class="nd b"><rect x="2112.2" y="985.9" width="125.6" height="71" rx="13"/><text y="1006.9"><tspan x="2175">gini = 0.0</tspan><tspan x="2175" dy="20">samples = 4</tspan><tspan x="2175" dy="20">value = [0, 4]</tspan></text></g>
<g id="n100" class="nd o"><rect x="2263.2" y="985.9" width="125.6" height="71" rx="13"/><text y="1006.9"><tspan x="2326">gini = 0.0</tspan><tspan x="2326" dy="20">samples = 1</tspan><tspan x="2326" dy="20">value = [1, 0]</tspan></text></g>
<g id="n101" class="nd o"><rect x="2413.7" y="985.9" width="125.6" height="71" rx="13"/><text y="1006.9"><tspan x="2476.5">gini = 0.0</tspan><tspan x="2476.5" dy="20">samples = 3</tspan><tspan x="2476.5" dy="20">value = [3, 0]</tspan></text></g>
<g id="n102" class="nd"><rect x="2564.85" y="976.15" width="140.3" height="90.5" rx="13" fill="#cee6f8"/><text y="996.9"><tspan x="2635">X[0] &lt;= 18.865</tspan><tspan x="2635" dy="20">gini = 0.49</tspan><tspan x="2635" dy="20">samples = 7</tspan><tspan x="2635" dy="20">value = [3, 4]</tspan></text></g>
<g id="n103" class="nd w"><rect x="2788.95" y="976.15" width="130.1" height="90.5" rx="13"/><text y="996.9"><tspan x="2854">X[1] &lt;= 0.163</tspan><tspan x="2854" dy="20">gini = 0.5</tspan><tspan x="2854" dy="20">samples = 12</tspan><tspan x="2854" dy="20">value = [6, 6]</tspan></text></g>
<g id="n104" class="nd o"><rect x="2944.7" y="985.9" width="125.6" height="71" rx="13"/><text y="1006.9"><tspan x="3007.5">gini = 0.0</tspan><tspan x="3007.5" dy="20">samples = 2</tspan><tspan x="3007.5" dy="20">value = [2, 0]</tspan></text></g>
<g id="n105" class="nd"><rect x="3155.45" y="976.15" width="130.1" height="90.5" rx="13" fill="#5aade9"/><text y="996.9"><tspan x="3220.5">X[1] &lt;= 0.158</tspan><tspan x="3220.5" dy="20">gini = 0.245</tspan><tspan x="3220.5" dy="20">samples = 7</tspan><tspan x="3220.5" dy="20">value = [1, 6]</tspan></text></g>
<g id="n106" class="nd b"><rect x="3310.2" y="985.9" width="125.6" height="71" rx="13"/><text y="1006.9"><tspan x="3373">gini = 0.0</tspan><tspan x="3373" dy="20">samples = 9</tspan><tspan x="3373" dy="20">value = [0, 9]</tspan></text></g>
<g id="n107" class="nd"><rect x="3464.6" y="976.15" width="145.8" height="90.5" rx="13" fill="#f4cbad"/><text y="996.9"><tspan x="3537.5">X[0] &lt;= 26.72</tspan><tspan x="3537.5" dy="20">gini = 0.466</tspan><tspan x="3537.5" dy="20">samples = 27</tspan><tspan x="3537.5" dy="20">value = [17, 10]</tspan></text></g>
<g id="n108" class="nd"><rect x="3635.85" y="976.15" width="140.3" height="90.5" rx="13" fill="#7bbeee"/><text y="996.9"><tspan x="3706">X[0] &lt;= 21.925</tspan><tspan x="3706" dy="20">gini = 0.375</tspan><tspan x="3706" dy="20">samples = 8</tspan><tspan x="3706" dy="20">value = [2, 6]</tspan></text></g>
<g id="n109" class="nd b"><rect x="3936.7" y="985.9" width="125.6" height="71" rx="13"/><text y="1006.9"><tspan x="3999.5">gini = 0.0</tspan><tspan x="3999.5" dy="20">samples = 3</tspan><tspan x="3999.5" dy="20">value = [0, 3]</tspan></text></g>
<g id="n110" class="nd w"><rect x="4088.85" y="976.15" width="140.3" height="90.5" rx="13"/><text y="996.9"><tspan x="4159">X[0] &lt;= 25.545</tspan><tspan x="4159" dy="20">gini = 0.5</tspan><tspan x="4159" dy="20">samples = 2</tspan><tspan x="4159" dy="20">value = [1, 1]</tspan></text></g>
<g id="n111" class="nd"><rect x="4256.95" y="976.15" width="130.1" height="90.5" rx="13" fill="#7bbeee"/><text y="996.9"><tspan x="4322">X[0] &lt;= 19.51</tspan><tspan x="4322" dy="20">gini = 0.375</tspan><tspan x="4322" dy="20">samples = 4</tspan><tspan x="4322" dy="20">value = [1, 3]</tspan></text></g>
<g id="n112" class="nd"><rect x="4411.1" y="976.15" width="145.8" height="90.5" rx="13" fill="#efb184"/><text y="996.9"><tspan x="4484">X[1] &lt;= 0.177</tspan><tspan x="4484" dy="20">gini = 0.398</tspan><tspan x="4484" dy="20">samples = 84</tspan><tspan x="4484" dy="20">value = [61, 23]</tspan></text></g>
<g id="n113" class="nd b"><rect x="4583.2" y="985.9" width="125.6" height="71" rx="13"/><text y="1006.9"><tspan x="4646">gini = 0.0</tspan><tspan x="4646" dy="20">samples = 2</tspan><tspan x="4646" dy="20">value = [0, 2]</tspan></text></g>
<g id="n114" class="nd o"><rect x="4733.7" y="985.9" width="125.6" height="71" rx="13"/><text y="1006.9"><tspan x="4796.5">gini = 0.0</tspan><tspan x="4796.5" dy="20">samples = 1</tspan><tspan x="4796.5" dy="20">value = [1, 0]</tspan></text></g>
<g id="n115" class="nd o"><rect x="4893.7" y="985.9" width="125.6" height="71" rx="13"/><text y="1006.9"><tspan x="4956.5">gini = 0.0</tspan><tspan x="4956.5" dy="20">samples = 1</tspan><tspan x="4956.5" dy="20">value = [1, 0]</tspan></text></g>
<g id="n116" class="nd b"><rect x="5044.2" y="985.9" width="125.6" height="71" rx="13"/><text y="1006.9"><tspan x="5107">gini = 0.0</tspan><tspan x="5107" dy="20">samples = 1</tspan><tspan x="5107" dy="20">value = [0, 1]</tspan></text></g>
<g id="n117" class="nd o"><rect x="5199.2" y="985.9" width="125.6" height="71" rx="13"/><text y="1006.9"><tspan x="5262">gini = 0.0</tspan><tspan x="5262" dy="20">samples = 2</tspan><tspan x="5262" dy="20">value = [2, 0]</tspan></text></g>
<g id="n118" class="nd"><rect x="5349.95" y="976.15" width="130.1" height="90.5" rx="13" fill="#bddef6"/><text y="996.9"><tspan x="5415">X[1] &lt;= 0.263</tspan><tspan x="5415" dy="20">gini = 0.48</tspan><tspan x="5415" dy="20">samples = 5</tspan><tspan x="5415" dy="20">value = [2, 3]</tspan></text></g>
<g id="n119" class="nd b"><rect x="5.7" y="1114.85" width="125.6" height="71" rx="13"/><text y="1135.85"><tspan x="68.5">gini = 0.0</tspan><tspan x="68.5" dy="20">samples = 2</tspan><tspan x="68.5" dy="20">value = [0, 2]</tspan></text></g>
<g id="n120" class="nd o"><rect x="156.2" y="1114.85" width="125.6" height="71" rx="13"/><text y="1135.85"><tspan x="219">gini = 0.0</tspan><tspan x="219" dy="20">samples = 1</tspan><tspan x="219" dy="20">value = [1, 0]</tspan></text></g>
<g id="n121" class="nd"><rect x="398.15" y="1114.85" width="135.7" height="71" rx="13" fill="#49a5e7"/><text y="1135.85"><tspan x="466">gini = 0.135</tspan><tspan x="466" dy="20">samples = 55</tspan><tspan x="466" dy="20">value = [4, 51]</tspan></text></g>
<g id="n122" class="nd"><rect x="558.7" y="1114.85" width="125.6" height="71" rx="13" fill="#9ccef2"/><text y="1135.85"><tspan x="621.5">gini = 0.444</tspan><tspan x="621.5" dy="20">samples = 3</tspan><tspan x="621.5" dy="20">value = [1, 2]</tspan></text></g>
<g id="n123" class="nd o"><rect x="717.7" y="1114.85" width="125.6" height="71" rx="13"/><text y="1135.85"><tspan x="780.5">gini = 0.0</tspan><tspan x="780.5" dy="20">samples = 1</tspan><tspan x="780.5" dy="20">value = [1, 0]</tspan></text></g>
<g id="n124" class="nd"><rect x="869.15" y="1114.85" width="135.7" height="71" rx="13" fill="#56abe9"/><text y="1135.85"><tspan x="937">gini = 0.225</tspan><tspan x="937" dy="20">samples = 31</tspan><tspan x="937" dy="20">value = [4, 27]</tspan></text></g>
<g id="n125" class="nd"><rect x="1029.7" y="1114.85" width="125.6" height="71" rx="13" fill="#f2c09c"/><text y="1135.85"><tspan x="1092.5">gini = 0.444</tspan><tspan x="1092.5" dy="20">samples = 3</tspan><tspan x="1092.5" dy="20">value = [2, 1]</tspan></text></g>
<g id="n126" class="nd b"><rect x="1180.7" y="1114.85" width="125.6" height="71" rx="13"/><text y="1135.85"><tspan x="1243.5">gini = 0.0</tspan><tspan x="1243.5" dy="20">samples = 1</tspan><tspan x="1243.5" dy="20">value = [0, 1]</tspan></text></g>
<g id="n127" class="nd"><rect x="1331.1" y="1114.85" width="145.8" height="71" rx="13" fill="#b9dcf6"/><text y="1135.85"><tspan x="1404">gini = 0.477</tspan><tspan x="1404" dy="20">samples = 28</tspan><tspan x="1404" dy="20">value = [11, 17]</tspan></text></g>
<g id="n128" class="nd"><rect x="1502.15" y="1114.85" width="135.7" height="71" rx="13" fill="#4da7e8"/><text y="1135.85"><tspan x="1570">gini = 0.165</tspan><tspan x="1570" dy="20">samples = 11</tspan><tspan x="1570" dy="20">value = [1, 10]</tspan></text></g>
<g id="n129" class="nd"><rect x="1662.7" y="1114.85" width="125.6" height="71" rx="13" fill="#e9965a"/><text y="1135.85"><tspan x="1725.5">gini = 0.245</tspan><tspan x="1725.5" dy="20">samples = 7</tspan><tspan x="1725.5" dy="20">value = [6, 1]</tspan></text></g>
<g id="n130" class="nd b"><rect x="1813.7" y="1114.85" width="125.6" height="71" rx="13"/><text y="1135.85"><tspan x="1876.5">gini = 0.0</tspan><tspan x="1876.5" dy="20">samples = 1</tspan><tspan x="1876.5" dy="20">value = [0, 1]</tspan></text></g>
<g id="n131" class="nd"><rect x="2422.2" y="1114.85" width="125.6" height="71" rx="13" fill="#f2c09c"/><text y="1135.85"><tspan x="2485">gini = 0.444</tspan><tspan x="2485" dy="20">samples = 3</tspan><tspan x="2485" dy="20">value = [2, 1]</tspan></text></g>
<g id="n132" class="nd"><rect x="2572.2" y="1114.85" width="125.6" height="71" rx="13" fill="#7bbeee"/><text y="1135.85"><tspan x="2635">gini = 0.375</tspan><tspan x="2635" dy="20">samples = 4</tspan><tspan x="2635" dy="20">value = [1, 3]</tspan></text></g>
<g id="n133" class="nd"><rect x="2723.7" y="1114.85" width="129.6" height="71" rx="13" fill="#f6d5bd"/><text y="1135.85"><tspan x="2788.5">gini = 0.48</tspan><tspan x="2788.5" dy="20">samples = 10</tspan><tspan x="2788.5" dy="20">value = [6, 4]</tspan></text></g>
<g id="n134" class="nd b"><rect x="2879.2" y="1114.85" width="125.6" height="71" rx="13"/><text y="1135.85"><tspan x="2942">gini = 0.0</tspan><tspan x="2942" dy="20">samples = 2</tspan><tspan x="2942" dy="20">value = [0, 2]</tspan></text></g>
<g id="n135" class="nd b"><rect x="3029.7" y="1114.85" width="125.6" height="71" rx="13"/><text y="1135.85"><tspan x="3092.5">gini = 0.0</tspan><tspan x="3092.5" dy="20">samples = 6</tspan><tspan x="3092.5" dy="20">value = [0, 6]</tspan></text></g>
<g id="n136" class="nd o"><rect x="3180.7" y="1114.85" width="125.6" height="71" rx="13"/><text y="1135.85"><tspan x="3243.5">gini = 0.0</tspan><tspan x="3243.5" dy="20">samples = 1</tspan><tspan x="3243.5" dy="20">value = [1, 0]</tspan></text></g>
<g id="n137" class="nd"><rect x="3331.15" y="1114.85" width="135.7" height="71" rx="13" fill="#f1bc95"/><text y="1135.85"><tspan x="3399">gini = 0.434</tspan><tspan x="3399" dy="20">samples = 22</tspan><tspan x="3399" dy="20">value = [15, 7]</tspan></text></g>
<g id="n138" class="nd"><rect x="3491.7" y="1114.85" width="125.6" height="71" rx="13" fill="#bddef6"/><text y="1135.85"><tspan x="3554.5">gini = 0.48</tspan><tspan x="3554.5" dy="20">samples = 5</tspan><tspan x="3554.5" dy="20">value = [2, 3]</tspan></text></g>
<g id="n139" class="nd o"><rect x="3643.2" y="1114.85" width="125.6" height="71" rx="13"/><text y="1135.85"><tspan x="3706">gini = 0.0</tspan><tspan x="3706" dy="20">samples = 1</tspan><tspan x="3706" dy="20">value = [1, 0]</tspan></text></g>
<g id="n140" class="nd"><rect x="3793.7" y="1114.85" width="125.6" height="71" rx="13" fill="#5aade9"/><text y="1135.85"><tspan x="3856.5">gini = 0.245</tspan><tspan x="3856.5" dy="20">samples = 7</tspan><tspan x="3856.5" dy="20">value = [1, 6]</tspan></text></g>
<g id="n141" class="nd o"><rect x="3944.7" y="1114.85" width="125.6" height="71" rx="13"/><text y="1135.85"><tspan x="4007.5">gini = 0.0</tspan><tspan x="4007.5" dy="20">samples = 1</tspan><tspan x="4007.5" dy="20">value = [1, 0]</tspan></text></g>
<g id="n142" class="nd b"><rect x="4096.2" y="1114.85" width="125.6" height="71" rx="13"/><text y="1135.85"><tspan x="4159">gini = 0.0</tspan><tspan x="4159" dy="20">samples = 1</tspan><tspan x="4159" dy="20">value = [0, 1]</tspan></text></g>
<g id="n143" class="nd o"><rect x="4245.7" y="1114.85" width="125.6" height="71" rx="13"/><text y="1135.85"><tspan x="4308.5">gini = 0.0</tspan><tspan x="4308.5" dy="20">samples = 1</tspan><tspan x="4308.5" dy="20">value = [1, 0]</tspan></text></g>
<g id="n144" class="nd b"><rect x="4396.2" y="1114.85" width="125.6" height="71" rx="13"/><text y="1135.85"><tspan x="4459">gini = 0.0</tspan><tspan x="4459" dy="20">samples = 3</tspan><tspan x="4459" dy="20">value = [0, 3]</tspan></text></g>
<g id="n145" class="nd o"><rect x="4547.2" y="1114.85" width="125.6" height="71" rx="13"/><text y="1135.85"><tspan x="4610">gini = 0.0</tspan><tspan x="4610" dy="20">samples = 8</tspan><tspan x="4610" dy="20">value = [8, 0]</tspan></text></g>
<g id="n146" class="nd"><rect x="4698.1" y="1114.85" width="145.8" height="71" rx="13" fill="#f0b88f"/><text y="1135.85"><tspan x="4771">gini = 0.422</tspan><tspan x="4771" dy="20">samples = 76</tspan><tspan x="4771" dy="20">value = [53, 23]</tspan></text></g>
<g id="n147" class="nd"><rect x="5276.7" y="1114.85" width="125.6" height="71" rx="13" fill="#7bbeee"/><text y="1135.85"><tspan x="5339.5">gini = 0.375</tspan><tspan x="5339.5" dy="20">samples = 4</tspan><tspan x="5339.5" dy="20">value = [1, 3]</tspan></text></g>
<g id="n148" class="nd o"><rect x="5426.7" y="1114.85" width="125.6" height="71" rx="13"/><text y="1135.85"><tspan x="5489.5">gini = 0.0</tspan><tspan x="5489.5" dy="20">samples = 1</tspan><tspan x="5489.5" dy="20">value = [1, 0]</tspan></text></g>
</g>
</svg>
